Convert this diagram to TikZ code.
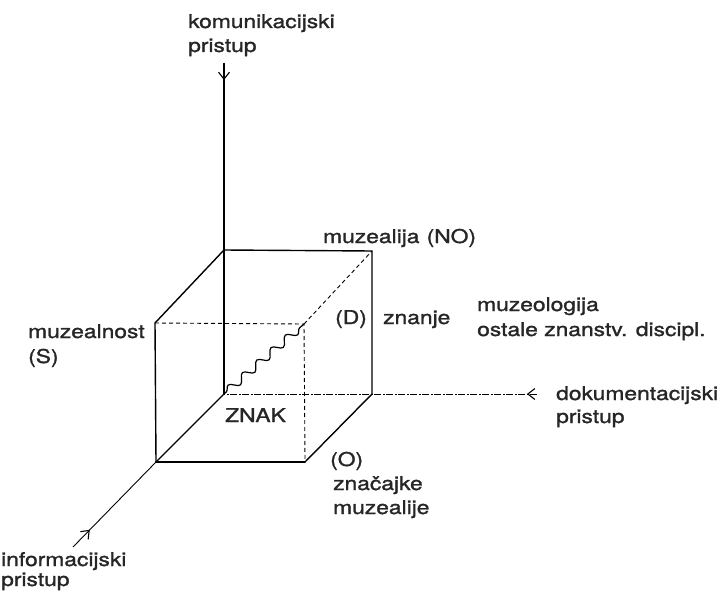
\documentclass[tikz,border=0pt]{standalone}
\usepackage{fontspec}
\newfontfamily\lblfont[FakeBold=1.2]{TeX Gyre Heros}
\usetikzlibrary{decorations.pathmorphing,decorations.markings,arrows.meta}
\newcommand{\lblw}[1]{\scalebox{1.2}[1.0]{#1}}
\tikzset{
  lbl/.style={anchor=base west, inner sep=0pt, font=\lblfont\fontsize{19}{23}\selectfont, text=black!85},
  edge/.style={line width=1.4pt, line cap=round},
  thickedge/.style={line width=2pt, line cap=round},
  hidden/.style={line width=0.9pt, dash pattern=on 4pt off 3pt},
  axisthin/.style={line width=0.8pt, dash pattern=on 7pt off 1.5pt on 2pt off 1.5pt},
  barb/.tip={Straight Barb[length=7pt, width=11pt, line width=1.1pt]},
  midarrow/.style={postaction={decorate, decoration={markings, mark=at position #1 with {\arrow{barb}}}}}
}
\begin{document}
\begin{tikzpicture}[x=1pt,y=-1pt]
\useasboundingbox (0,0) rectangle (722,591);
% cube corners
\coordinate (F1) at (155,323);
\coordinate (F2) at (304,324);
\coordinate (F3) at (305,462);
\coordinate (F4) at (156,462);
\coordinate (B1) at (224,250);
\coordinate (B2) at (372,251);
\coordinate (B3) at (372,394);
\coordinate (B4) at (224,394);
% axis ends
\coordinate (KT) at (224,63);
\coordinate (HR) at (537,394);
\coordinate (IL) at (73,547);

% axes
\draw[line width=1.2pt, midarrow=17pt] (KT) -- (B1);
\draw[axisthin, midarrow=10pt] (HR) -- (B4);
\draw[line width=0.9pt, midarrow=24pt] (IL) -- (F4);

% visible edges
\draw[edge] (B1) -- (B2) -- (B3);
\draw[edge] (B1) -- (B4);
\draw[edge] (F1) -- (F4);
\draw[thickedge] (F4) -- (F3);
\draw[edge] (F1) -- (B1);
\draw[edge] (F4) -- (B4);
\draw[edge] (F3) -- (B3);
% hidden edges
\draw[hidden] (F1) -- (F2) -- (F3);
\draw[hidden] (F2) -- (B2);
% wavy sign line
\draw[line width=1.2pt, decorate, decoration={snake, segment length=19pt, amplitude=4pt, pre length=3pt, post length=2pt}] (B4) -- (F2);

% labels
\node[lbl] (kom1) at (188,28) {\lblw{komunikacijski}};
\node[lbl] (kom2) at (188,52) {\lblw{pristup}};
\node[lbl] (muz) at (323,243) {\lblw{muzealija\hspace{6pt}(NO)}};
\node[lbl] (mzn1) at (28,338) {\lblw{muzealnost}};
\node[lbl] (mzn2) at (28,363) {\lblw{(S)}};
\node[lbl] (D) at (335,324) {\lblw{(D)}};
\node[lbl] (zn) at (383,324) {\lblw{znanje}};
\node[lbl] (mo1) at (477,311) {\lblw{muzeologija}};
\node[lbl] (mo2) at (477,336) {\lblw{ostale znanstv. discipl.}};
\node[lbl] (znak) at (225,422) {\lblw{ZNAK}};
\node[lbl] (dok1) at (556,400) {\lblw{dokumentacijski}};
\node[lbl] (dok2) at (556,423) {\lblw{pristup}};
\node[lbl] (O) at (330,466) {\lblw{(O)}};
\node[lbl] (zo1) at (333,490) {\lblw{značajke}};
\node[lbl] (zo2) at (333,514) {\lblw{muzealije}};
\node[lbl] (inf1) at (1,566) {\lblw{informacijski}};
\node[lbl] (inf2) at (1,586) {\lblw{pristup}};
\end{tikzpicture}
\end{document}
